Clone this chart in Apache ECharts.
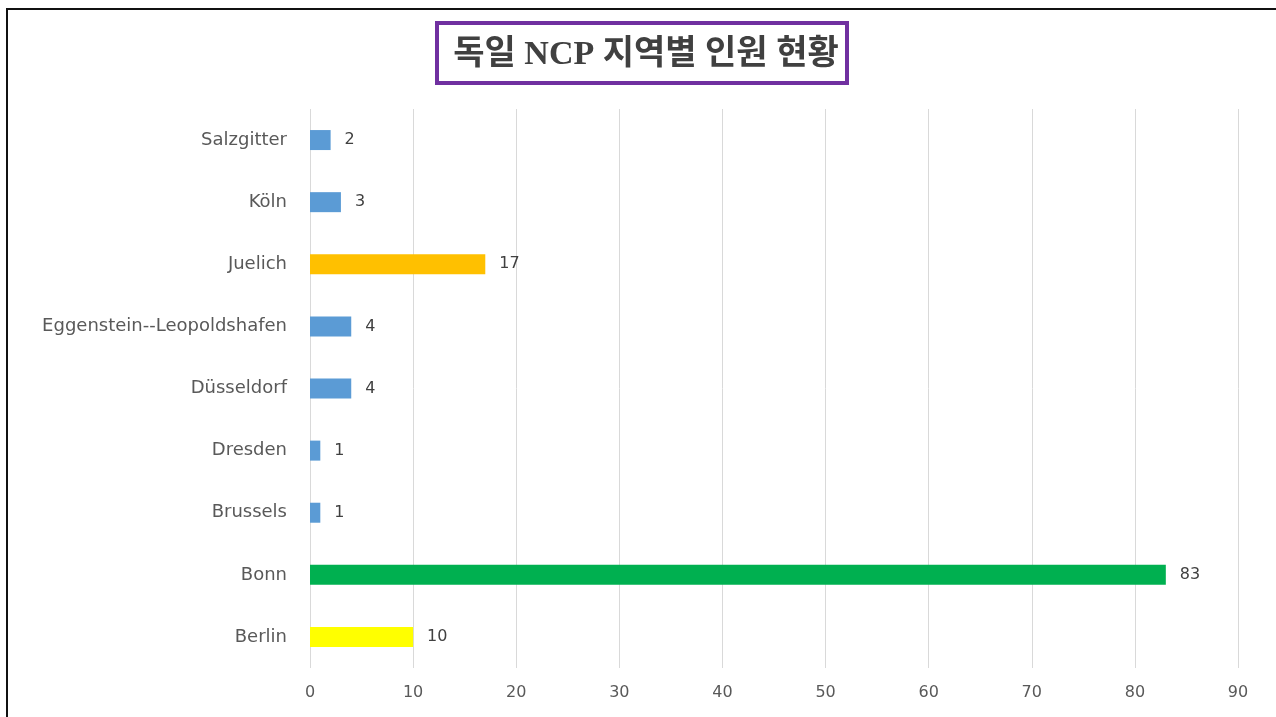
<!DOCTYPE html>
<html>
<head>
<meta charset="utf-8">
<script src="https://cdn.jsdelivr.net/npm/echarts@6/dist/echarts.min.js"></script>
<style>
  html, body { margin: 0; padding: 0; background: #fff; }
  #frame { position: absolute; left: 6px; top: 8px; width: 1270px; height: 709px; border-left: 2px solid #111; border-top: 2px solid #111; box-sizing: border-box; }
  #chart { position: absolute; left: 0; top: 0; width: 1276px; height: 717px; }
</style>
</head>
<body>
<div id="frame"></div>
<div id="chart"></div>
<script>
const titleText = "독일 NCP 지역별 인원 현황";
const cities = ["Berlin", "Bonn", "Brussels", "Dresden", "Düsseldorf", "Eggenstein--Leopoldshafen", "Juelich", "Köln", "Salzgitter"];
const people = [10, 83, 1, 1, 4, 4, 17, 3, 2];
const barColors = ["#FFFF00", "#00B050", "#5B9BD5", "#5B9BD5", "#5B9BD5", "#5B9BD5", "#FFC000", "#5B9BD5", "#5B9BD5"];

const labelFont = "'DejaVu Sans', 'Open Sans', sans-serif";
const chart = echarts.init(document.getElementById("chart"));

chart.setOption({
  animation: false,
  grid: { left: 310, right: 38, top: 109, bottom: 49, containLabel: false },
  xAxis: {
    type: "value",
    min: 0,
    max: 90,
    interval: 10,
    axisLine: { show: false },
    axisTick: { show: false },
    axisLabel: { color: "#595959", fontSize: 16, fontFamily: labelFont, margin: 17 },
    splitLine: { lineStyle: { color: "#d9d9d9", width: 1 } }
  },
  yAxis: {
    type: "category",
    data: cities,
    axisLine: { show: false },
    axisTick: { show: false },
    axisLabel: { color: "#595959", fontSize: 18, fontFamily: labelFont, margin: 23 }
  },
  series: [
    {
      type: "bar",
      barWidth: 20,
      data: people.map((v, i) => ({ value: v, itemStyle: { color: barColors[i] } })),
      label: {
        show: true,
        position: "right",
        distance: 14,
        color: "#404040",
        fontSize: 16,
        fontFamily: labelFont
      }
    }
  ],
  graphic: [
    {
      type: "rect",
      shape: { x: 437, y: 23, width: 410, height: 60 },
      style: { fill: "#fff", stroke: "#7030A0", lineWidth: 4 }
    },
    {
      type: "text",
      x: 646,
      y: 55,
      style: {
        text: titleText,
        fill: "#404040",
        font: "bold 34px 'Liberation Serif', 'Noto Sans CJK KR', serif",
        align: "center",
        verticalAlign: "middle"
      }
    }
  ]
});
</script>
</body>
</html>
